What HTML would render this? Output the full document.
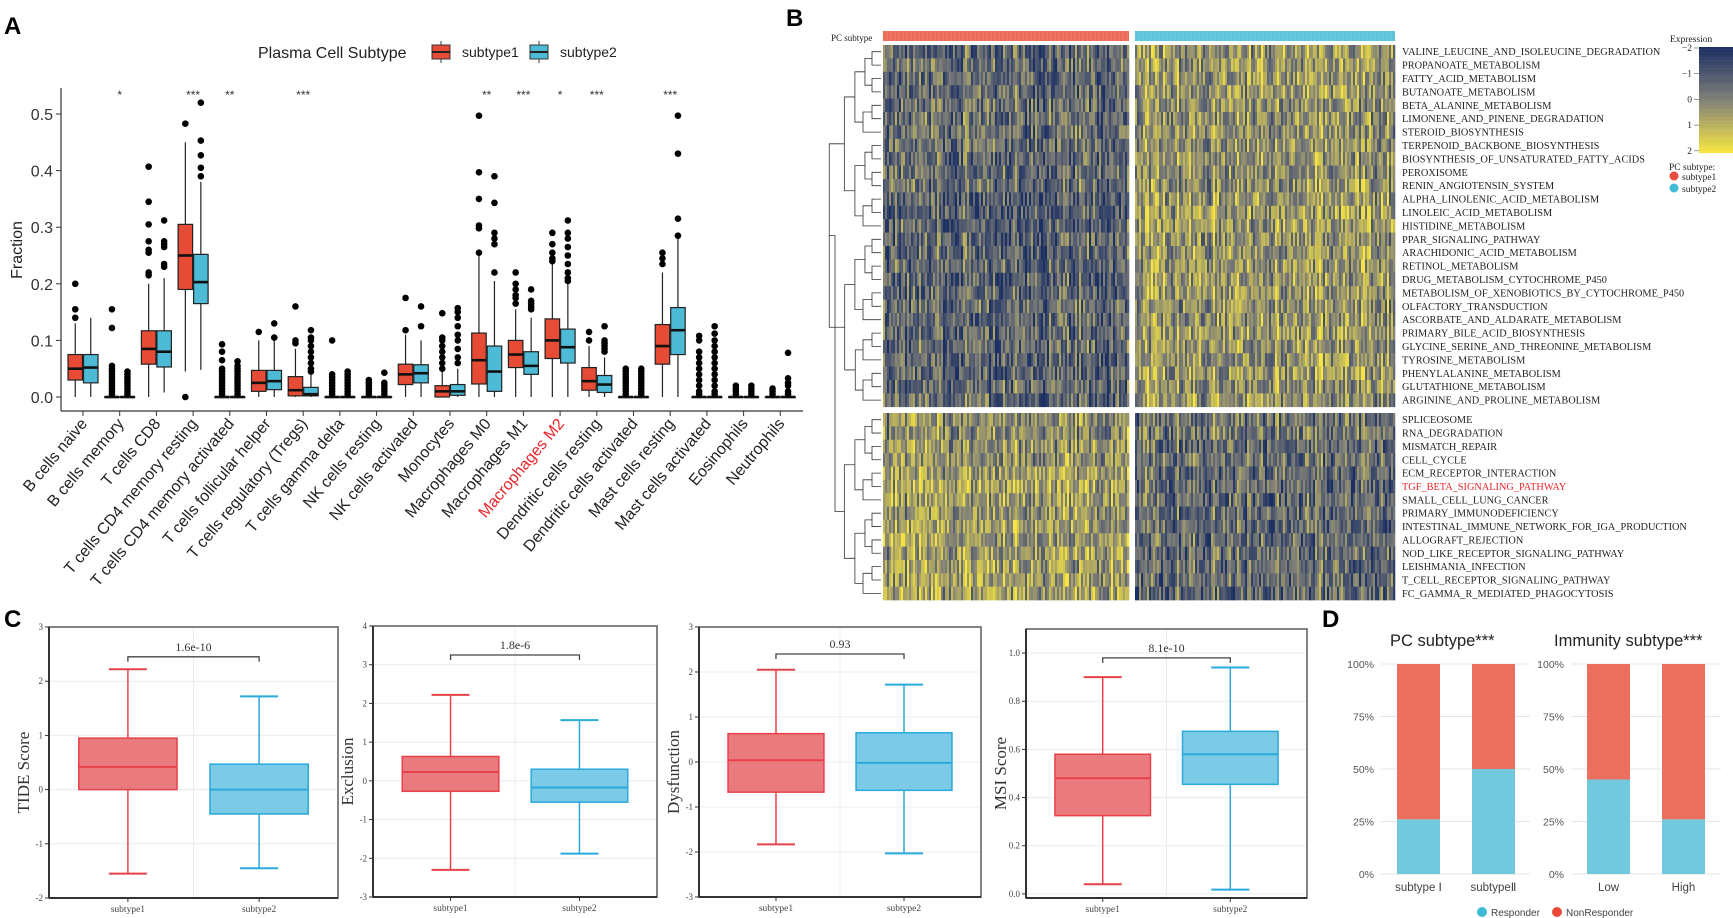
<!DOCTYPE html>
<html><head><meta charset="utf-8">
<style>
html,body{margin:0;padding:0;background:#fff;}
svg{display:block;}
</style></head>
<body>
<svg id="fig" xmlns="http://www.w3.org/2000/svg" width="1733" height="918" viewBox="0 0 1733 918">
<g id="panelA"></g>
<g id="panelB"></g>
<g id="panelC"></g>
<g id="panelD"></g>
</svg>
<script>
// ---------------- Panel A data ----------------
const cellTypes = ["B cells naive","B cells memory","T cells CD8","T cells CD4 memory resting","T cells CD4 memory activated","T cells follicular helper","T cells regulatory (Tregs)","T cells gamma delta","NK cells resting","NK cells activated","Monocytes","Macrophages M0","Macrophages M1","Macrophages M2","Dendritic cells resting","Dendritic cells activated","Mast cells resting","Mast cells activated","Eosinophils","Neutrophils"];
const s1Q1  = [0.03,0,0.058,0.19,0,0.01,0.002,0,0,0.022,0,0.023,0.052,0.068,0.012,0,0.058,0,0,0];
const s1Med = [0.05,0,0.085,0.25,0,0.025,0.012,0,0,0.04,0.01,0.065,0.075,0.1,0.028,0,0.09,0,0,0];
const s1Q3  = [0.075,0,0.117,0.305,0,0.047,0.036,0,0,0.058,0.02,0.113,0.1,0.138,0.052,0,0.128,0,0,0];
const s1Lo  = [0,0,0,0.045,0,0,0,0,0,0,0,0,0,0,0,0,0,0,0,0];
const s1Hi  = [0.13,0,0.2,0.45,0,0.1,0.085,0,0,0.11,0.045,0.25,0.155,0.235,0.09,0,0.22,0,0,0];
const s2Q1  = [0.025,0,0.053,0.165,0,0.013,0.002,0,0,0.025,0.003,0.01,0.04,0.06,0.008,0,0.075,0,0,0];
const s2Med = [0.052,0,0.08,0.203,0,0.028,0.005,0,0,0.042,0.01,0.045,0.055,0.088,0.022,0,0.118,0,0,0];
const s2Q3  = [0.075,0,0.117,0.252,0,0.047,0.017,0,0,0.057,0.022,0.09,0.08,0.12,0.038,0,0.158,0,0,0];
const s2Lo  = [0,0,0.008,0.048,0,0,0,0,0,0,0,0,0,0,0,0,0,0,0,0];
const s2Hi  = [0.14,0,0.21,0.38,0,0.1,0.04,0,0,0.1,0.05,0.205,0.14,0.2,0.07,0,0.28,0,0,0];
const s1Out = [[0.14,0.155,0.2],[0.005,0.01,0.015,0.02,0.025,0.03,0.035,0.04,0.045,0.05,0.055,0.122,0.155],[0.215,0.22,0.255,0.26,0.275,0.305,0.345,0.407],[0,0.483],[0.005,0.01,0.015,0.02,0.025,0.03,0.035,0.04,0.045,0.05,0.065,0.08,0.093],[0.115],[0.095,0.1,0.16],[0.005,0.01,0.015,0.02,0.025,0.03,0.035,0.04,0.1],[0.005,0.01,0.015,0.02,0.025,0.03],[0.118,0.175],[0.05,0.06,0.07,0.08,0.09,0.1,0.105,0.148],[0.255,0.298,0.303,0.35,0.397,0.497],[0.165,0.175,0.18,0.19,0.2,0.22],[0.24,0.245,0.255,0.27,0.29],[0.1,0.115],[0.005,0.01,0.015,0.02,0.025,0.03,0.035,0.04,0.045,0.05],[0.235,0.245,0.255],[0.005,0.01,0.02,0.03,0.04,0.05,0.06,0.07,0.08,0.1,0.108],[0.005,0.01,0.015,0.02],[0.005,0.01,0.015]];
const s2Out = [[],[0.005,0.01,0.015,0.02,0.025,0.03,0.035,0.04,0.045],[0.23,0.235,0.265,0.27,0.275,0.312],[0.39,0.405,0.427,0.453,0.52],[0.005,0.01,0.015,0.02,0.025,0.03,0.035,0.04,0.045,0.05,0.055,0.063],[0.105,0.13],[0.045,0.05,0.06,0.07,0.08,0.09,0.1,0.105,0.118],[0.005,0.01,0.015,0.02,0.025,0.03,0.035,0.04,0.045],[0.005,0.01,0.015,0.02,0.025,0.043],[0.125,0.16],[0.06,0.07,0.085,0.1,0.11,0.125,0.14,0.15,0.157],[0.22,0.27,0.28,0.29,0.343,0.39],[0.155,0.16,0.165,0.17,0.19],[0.205,0.21,0.22,0.235,0.25,0.265,0.28,0.29,0.312],[0.08,0.085,0.09,0.095,0.1,0.125],[0.005,0.01,0.015,0.02,0.025,0.03,0.035,0.04,0.045,0.05],[0.285,0.315,0.43,0.497],[0.005,0.01,0.02,0.03,0.04,0.05,0.06,0.07,0.08,0.09,0.1,0.112,0.125],[0.005,0.01,0.015,0.02],[0.005,0.01,0.02,0.025,0.033,0.078]];
const sigLabels = ["","*","","***","**","","***","","","","","**","***","*","***","","***","","",""];
const yTicksA = [0,0.1,0.2,0.3,0.4,0.5];

// ---------------- Panel B data ----------------
const pathways = ["VALINE_LEUCINE_AND_ISOLEUCINE_DEGRADATION","PROPANOATE_METABOLISM","FATTY_ACID_METABOLISM","BUTANOATE_METABOLISM","BETA_ALANINE_METABOLISM","LIMONENE_AND_PINENE_DEGRADATION","STEROID_BIOSYNTHESIS","TERPENOID_BACKBONE_BIOSYNTHESIS","BIOSYNTHESIS_OF_UNSATURATED_FATTY_ACIDS","PEROXISOME","RENIN_ANGIOTENSIN_SYSTEM","ALPHA_LINOLENIC_ACID_METABOLISM","LINOLEIC_ACID_METABOLISM","HISTIDINE_METABOLISM","PPAR_SIGNALING_PATHWAY","ARACHIDONIC_ACID_METABOLISM","RETINOL_METABOLISM","DRUG_METABOLISM_CYTOCHROME_P450","METABOLISM_OF_XENOBIOTICS_BY_CYTOCHROME_P450","OLFACTORY_TRANSDUCTION","ASCORBATE_AND_ALDARATE_METABOLISM","PRIMARY_BILE_ACID_BIOSYNTHESIS","GLYCINE_SERINE_AND_THREONINE_METABOLISM","TYROSINE_METABOLISM","PHENYLALANINE_METABOLISM","GLUTATHIONE_METABOLISM","ARGININE_AND_PROLINE_METABOLISM","SPLICEOSOME","RNA_DEGRADATION","MISMATCH_REPAIR","CELL_CYCLE","ECM_RECEPTOR_INTERACTION","TGF_BETA_SIGNALING_PATHWAY","SMALL_CELL_LUNG_CANCER","PRIMARY_IMMUNODEFICIENCY","INTESTINAL_IMMUNE_NETWORK_FOR_IGA_PRODUCTION","ALLOGRAFT_REJECTION","NOD_LIKE_RECEPTOR_SIGNALING_PATHWAY","LEISHMANIA_INFECTION","T_CELL_RECEPTOR_SIGNALING_PATHWAY","FC_GAMMA_R_MEDIATED_PHAGOCYTOSIS"];
const meanSub1 = [-0.6,-0.5,-0.6,-0.6,-0.5,-0.4,-0.4,-0.4,-0.5,-0.5,-0.5,-0.8,-0.8,-0.8,-0.6,-0.7,-0.7,-0.7,-0.7,-0.6,-0.6,-0.6,-0.6,-0.7,-0.7,-0.5,-0.5,0.3,0.2,0.4,0.4,0.6,0.7,0.6,0.5,0.6,0.6,0.6,0.6,0.6,0.6];
const meanSub2 = [0.5,0.5,0.5,0.5,0.4,0.3,0.3,0.3,0.4,0.4,0.4,0.5,0.6,0.6,0.4,0.5,0.5,0.5,0.5,0.4,0.5,0.5,0.4,0.5,0.5,0.4,0.4,-0.3,-0.2,-0.4,-0.4,-0.5,-0.6,-0.5,-0.5,-0.5,-0.5,-0.5,-0.5,-0.5,-0.6];
const nColsSub1 = 123, nColsSub2 = 130;

// ---------------- Panel C data ----------------
const cTitles = ["TIDE Score","Exclusion","Dysfunction","MSI Score"];
const cPvals = ["1.6e-10","1.8e-6","0.93","8.1e-10"];
const cQ1  = [[0,-0.45],[-0.27,-0.55],[-0.67,-0.63],[0.325,0.455]];
const cMed = [[0.42,0.0],[0.23,-0.17],[0.04,-0.02],[0.48,0.58]];
const cQ3  = [[0.95,0.47],[0.63,0.3],[0.63,0.65],[0.58,0.675]];
const cLo  = [[-1.55,-1.45],[-2.3,-1.88],[-1.83,-2.03],[0.04,0.018]];
const cHi  = [[2.22,1.72],[2.22,1.57],[2.05,1.72],[0.9,0.94]];
const cBracket = [2.45,3.25,2.4,0.98];
const cTicks = [[-2,-1,0,1,2,3],[-3,-2,-1,0,1,2,3,4],[-3,-2,-1,0,1,2,3],[0.0,0.2,0.4,0.6,0.8,1.0]];
const cTickText = [["-2","-1","0","1","2","3"],["-3","-2","-1","0","1","2","3","4"],["-3","-2","-1","0","1","2","3"],["0.0","0.2","0.4","0.6","0.8","1.0"]];
const cYmin = [-2,-3,-3,-0.017];
const cYmax = [3,4,3,1.1];

// ---------------- Panel D data ----------------
const dGroups = ["subtype Ⅰ","subtypeⅡ","Low","High"];
const dResponder = [26,50,45,26];
const dTicks = [0,25,50,75,100];

const NS="http://www.w3.org/2000/svg";
function mk(parent,tag,attrs,text){const e=document.createElementNS(NS,tag);for(const k in attrs)e.setAttribute(k,attrs[k]);if(text!==undefined)e.textContent=text;parent.appendChild(e);return e;}

// ================= PANEL A =================
(function(){
const g=document.getElementById('panelA');
const yA=v=>397-v*566;
const cx=i=>83+36.7*i;
let t=mk(g,'text',{x:4,y:34,'font-family':'Liberation Sans, sans-serif','font-size':24,'font-weight':'bold'},'A');


// legend
const lg=mk(g,'g',{});


mk(lg,'text',{x:258,y:58,'font-family':'Liberation Sans, sans-serif','font-size':16,fill:'#222'},'Plasma Cell Subtype');
[['#e64b35','subtype1',432,462],['#4dbbd5','subtype2',530,560]].forEach(d=>{
 const e=mk(lg,'g',{});
 
 
 mk(e,'line',{x1:d[2]+9,x2:d[2]+9,y1:41,y2:63,stroke:'#333','stroke-width':1});
 mk(e,'rect',{x:d[2],y:45,width:18,height:14,fill:d[0],stroke:'#333','stroke-width':1});
 mk(e,'line',{x1:d[2],x2:d[2]+18,y1:52,y2:52,stroke:'#222','stroke-width':2});
 mk(e,'text',{x:d[3],y:57,'font-family':'Liberation Sans, sans-serif','font-size':14,fill:'#222'},d[1]);
});
// axes
const ax=mk(g,'g',{});


mk(ax,'line',{x1:61,x2:61,y1:88,y2:411,stroke:'#333','stroke-width':1.2});
yTicksA.forEach(v=>{
 mk(ax,'line',{x1:56,x2:61,y1:yA(v),y2:yA(v),stroke:'#333'});
 mk(ax,'text',{x:53,y:yA(v)+6,'text-anchor':'end','font-family':'Liberation Sans, sans-serif','font-size':16,fill:'#333'},v.toFixed(1));
});
const yt=mk(g,'text',{x:0,y:0,transform:'translate(22,250) rotate(-90)','text-anchor':'middle','font-family':'Liberation Sans, sans-serif','font-size':16,fill:'#222'},'Fraction');


const xa=mk(g,'g',{});


mk(xa,'line',{x1:61,x2:803,y1:411,y2:411,stroke:'#333','stroke-width':1.2});
cellTypes.forEach((c,i)=>{
 const x=cx(i);
 mk(xa,'line',{x1:x,x2:x,y1:411,y2:416,stroke:'#333'});
 const lab=mk(xa,'text',{x:0,y:0,transform:`translate(${x+5},${424}) rotate(-50)`,'text-anchor':'end','font-family':'Liberation Sans, sans-serif','font-size':16,fill:(c==='Macrophages M2'?'#e8262a':'#222')},c);
 
 
});
function box(i,side,q1,med,q3,lo,hi,outs,fill){
 const c=cx(i); const x0= side===0? c-15: c+0.5; const w=14.5; const m=x0+w/2;
 const b=mk(g,'g',{});
 
 
 mk(b,'line',{x1:m,x2:m,y1:yA(hi),y2:yA(lo),stroke:'#222','stroke-width':1.2});
 mk(b,'rect',{x:x0,y:yA(q3),width:w,height:Math.max(0.5,yA(q1)-yA(q3)),fill:fill,stroke:'#222','stroke-width':1.2});
 mk(b,'line',{x1:x0,x2:x0+w,y1:yA(med),y2:yA(med),stroke:'#111','stroke-width':2.6});
 outs.forEach(v=>{const p=mk(b,'circle',{cx:m,cy:yA(v),r:3.3,fill:'#000'});});
}
cellTypes.forEach((c,i)=>{
 box(i,0,s1Q1[i],s1Med[i],s1Q3[i],s1Lo[i],s1Hi[i],s1Out[i],'#e64b35');
 box(i,1,s2Q1[i],s2Med[i],s2Q3[i],s2Lo[i],s2Hi[i],s2Out[i],'#4dbbd5');
 if(sigLabels[i]){const s=mk(g,'text',{x:cx(i),y:99,'text-anchor':'middle','font-family':'Liberation Sans, sans-serif','font-size':12,fill:'#333'},sigLabels[i]);
 
 }
});
})();

// ================= PANEL B =================
(function(){
const g=document.getElementById('panelB');
let t=mk(g,'text',{x:786,y:26,'font-family':'Liberation Sans, sans-serif','font-size':24,'font-weight':'bold'},'B');


const serif='Liberation Serif, serif';
mk(g,'text',{x:831,y:41,'font-family':serif,'font-size':9,fill:'#222'},'PC subtype');
const x1=883,cw=2,x2=1135;
const ann=mk(g,'g',{});


mk(ann,'rect',{x:x1,y:31,width:nColsSub1*cw,height:10,fill:'#ec6a58'});
mk(ann,'rect',{x:x2,y:31,width:nColsSub2*cw,height:10,fill:'#5cc3d8'});
for(let k=0;k<nColsSub1;k+=2)mk(ann,'line',{x1:x1+k*cw,x2:x1+k*cw,y1:31,y2:41,stroke:'#f4a396','stroke-width':0.4});
for(let k=0;k<nColsSub2;k+=2)mk(ann,'line',{x1:x2+k*cw,x2:x2+k*cw,y1:31,y2:41,stroke:'#9adcea','stroke-width':0.4});
function col(v){v=Math.max(-2,Math.min(2,v));
 const a=[27,47,99],m=[128,128,120],b=[245,228,66];
 let c; if(v<0){const f=(v+2)/2;c=a.map((x,i)=>x+(m[i]-x)*f);}else{const f=v/2;c=m.map((x,i)=>x+(b[i]-x)*f);}
 return `rgb(${c.map(Math.round).join(',')})`;}
function rowY(r){return r<27? 45+r*13.4 : 413+(r-27)*13.36;}
function hash(a,b){let h=(a*374761393+b*668265263)|0;h=(h^(h>>>13))*1274126177|0;return ((h^(h>>>16))>>>0)/4294967296;}
const hm=mk(g,'g',{});


pathways.forEach((p,r)=>{
 const y=rowY(r),h=r<27?13.4:13.36;
 for(let k=0;k<nColsSub1;k++){const v=meanSub1[r]+(hash(k,r*7+1)-0.5)*2.4+(hash(k,999)-0.5)*1.4;
  const c=mk(hm,'rect',{x:x1+k*cw,y:y,width:cw+0.3,height:h+0.3,fill:col(v)});}
 for(let k=0;k<nColsSub2;k++){const v=meanSub2[r]+(hash(k+500,r*7+1)-0.5)*2.4+(hash(k+500,999)-0.5)*1.4;
  const c=mk(hm,'rect',{x:x2+k*cw,y:y,width:cw+0.3,height:h+0.3,fill:col(v)});}
 const lab=mk(g,'text',{x:1402,y:y+h/2+3.5,'font-family':serif,'font-size':10.3,fill:(p==='TGF_BETA_SIGNALING_PATHWAY'?'#e8262a':'#222')},p);
 
 
});
// dendrogram
const dg=mk(g,'g',{stroke:'#333','stroke-width':0.8,fill:'none'});


function build(lo,hi,depth){ // returns {y,x}
 if(lo===hi){const h=lo<27?13.4:13.36;return {y:rowY(lo)+h/2,x:881};}
 const mid=Math.floor((lo+hi)/2);
 const a=build(lo,mid,depth+1),b=build(mid+1,hi,depth+1);
 const x=Math.min(a.x,b.x)-(hi-lo<3?9:6+ (hi-lo)*0.35);
 mk(dg,'path',{d:`M${a.x},${a.y}H${x}V${b.y}H${b.x}`});
 return {y:(a.y+b.y)/2,x:x};
}
const A=build(0,26,0),B=build(27,40,0);
const rx=835;
mk(dg,'path',{d:`M${A.x},${A.y}H${rx}V${B.y}H${B.x}`});
// legend
const lg=mk(g,'g',{});


mk(lg,'text',{x:1670,y:42,'font-family':serif,'font-size':9.5,fill:'#222'},'Expression');
for(let k=0;k<40;k++){const v=-2+k*0.1026;mk(lg,'rect',{x:1699,y:47+k*2.65,width:34,height:2.8,fill:col(v)});}
[-2,-1,0,1,2].forEach((v,i)=>{const y=48+i*25.7;
 mk(lg,'line',{x1:1694,x2:1699,y1:y,y2:y,stroke:'#555','stroke-width':0.6});
 mk(lg,'text',{x:1692,y:y+3,'text-anchor':'end','font-family':serif,'font-size':9.5,fill:'#222'},v===-2?'−2':v===-1?'−1':String(v));});
mk(lg,'text',{x:1669,y:170,'font-family':serif,'font-size':9.5,fill:'#222'},'PC subtype:');
mk(lg,'circle',{cx:1674,cy:176,r:4.5,fill:'#e94b3c'});
mk(lg,'text',{x:1682,y:180,'font-family':serif,'font-size':9.5,fill:'#222'},'subtype1');
mk(lg,'circle',{cx:1674,cy:188,r:4.5,fill:'#3fbcd5'});
mk(lg,'text',{x:1682,y:192,'font-family':serif,'font-size':9.5,fill:'#222'},'subtype2');
})();

// ================= PANEL C =================
(function(){
const g=document.getElementById('panelC');
let t=mk(g,'text',{x:4,y:627,'font-family':'Liberation Sans, sans-serif','font-size':24,'font-weight':'bold'},'C');


const serif='Liberation Serif, serif';
const frames=[[49,338,627,898],[373,657,626,897],[699,981,627,897],[1026,1307,629,898]];
const fills=[['#e97a7d','#e8414a'],['#7ccbe6','#29a9dc']];
frames.forEach((f,p)=>{
 const pg=mk(g,'g',{});
 
 
 const [L,R,T,Bt]=f, w=R-L;
 const y=v=>Bt-(v-cYmin[p])/(cYmax[p]-cYmin[p])*(Bt-T);
 const xc=[L+w*0.273,L+w*0.727], bw=w*0.34;
 // grid
 cTicks[p].forEach(v=>mk(pg,'line',{x1:L,x2:R,y1:y(v),y2:y(v),stroke:'#ececec','stroke-width':1}));
 mk(pg,'line',{x1:L+w/2,x2:L+w/2,y1:T,y2:Bt,stroke:'#ececec'});
 mk(pg,'rect',{x:L,y:T,width:w,height:Bt-T,fill:'none',stroke:'#666','stroke-width':1.6});
 mk(pg,'line',{x1:L,x2:L,y1:T,y2:Bt,stroke:'#333','stroke-width':2});
 mk(pg,'line',{x1:L,x2:R,y1:Bt,y2:Bt,stroke:'#333','stroke-width':2});
 cTicks[p].forEach((v,i)=>{
  mk(pg,'line',{x1:L-4,x2:L,y1:y(v),y2:y(v),stroke:'#333'});
  mk(pg,'text',{x:L-6,y:y(v)+3,'text-anchor':'end','font-family':serif,'font-size':9,fill:'#444'},cTickText[p][i]);
 });
 const yl=mk(pg,'text',{x:0,y:0,transform:`translate(${L-20},${(T+Bt)/2+10}) rotate(-90)`,'text-anchor':'middle','font-family':serif,'font-size':17,fill:'#333'},cTitles[p]);
 
 
 [0,1].forEach(s=>{
  const c=xc[s], [fc,sc]=fills[s];
  const bx=mk(pg,'g',{});
  
  
  mk(bx,'line',{x1:c,x2:c,y1:y(cHi[p][s]),y2:y(cLo[p][s]),stroke:sc,'stroke-width':1.5});
  mk(bx,'line',{x1:c-19,x2:c+19,y1:y(cHi[p][s]),y2:y(cHi[p][s]),stroke:sc,'stroke-width':2});
  mk(bx,'line',{x1:c-19,x2:c+19,y1:y(cLo[p][s]),y2:y(cLo[p][s]),stroke:sc,'stroke-width':2});
  mk(bx,'rect',{x:c-bw/2,y:y(cQ3[p][s]),width:bw,height:y(cQ1[p][s])-y(cQ3[p][s]),fill:fc,stroke:sc,'stroke-width':1.5});
  mk(bx,'line',{x1:c-bw/2,x2:c+bw/2,y1:y(cMed[p][s]),y2:y(cMed[p][s]),stroke:sc,'stroke-width':2});
  mk(pg,'line',{x1:c,x2:c,y1:Bt,y2:Bt+4,stroke:'#333'});
  mk(pg,'text',{x:c,y:Bt+14,'text-anchor':'middle','font-family':serif,'font-size':9.5,fill:'#444'},'subtype'+(s+1));
 });
 const by=y(cBracket[p]);
 mk(pg,'path',{d:`M${xc[0]},${by+5}V${by}H${xc[1]}V${by+5}`,fill:'none',stroke:'#444','stroke-width':1.3});
 const pv=mk(pg,'text',{x:(xc[0]+xc[1])/2,y:by-6,'text-anchor':'middle','font-family':serif,'font-size':12,fill:'#333'},cPvals[p]);
 
 
});
})();

// ================= PANEL D =================
(function(){
const g=document.getElementById('panelD');
let t=mk(g,'text',{x:1322,y:627,'font-family':'Liberation Sans, sans-serif','font-size':24,'font-weight':'bold'},'D');


const sans='Liberation Sans, sans-serif';
const yD=v=>874-v/100*210;
const barX=[1397,1472,1587,1662], bw=43;
const axes=[[1381,1530,1374],[1571,1721,1564]];
[['PC subtype***',1390],['Immunity subtype***',1554]].forEach(d=>{
 const ti=mk(g,'text',{x:d[1],y:646,'font-family':sans,'font-size':16.5,fill:'#222'},d[0]);
 
 
});
axes.forEach(a=>{
 dTicks.forEach(v=>{
  mk(g,'line',{x1:a[0],x2:a[1],y1:yD(v),y2:yD(v),stroke:'#e6e6e6'});
  mk(g,'text',{x:a[2],y:yD(v)+4,'text-anchor':'end','font-family':sans,'font-size':10.5,fill:'#555'},v+'%');
 });
});
dGroups.forEach((gname,i)=>{
 const b=mk(g,'g',{});
 
 
 mk(b,'rect',{x:barX[i],y:yD(100),width:bw,height:yD(dResponder[i])-yD(100),fill:'#eb6f5f'});
 mk(b,'rect',{x:barX[i],y:yD(dResponder[i]),width:bw,height:yD(0)-yD(dResponder[i]),fill:'#72c9dd'});
 mk(g,'text',{x:barX[i]+bw/2,y:891,'text-anchor':'middle','font-family':sans,'font-size':11.5,fill:'#444'},gname);
});
const lg=mk(g,'g',{});


mk(lg,'circle',{cx:1482,cy:912,r:5,fill:'#3fbcd5'});
mk(lg,'text',{x:1491,y:916,'font-family':sans,'font-size':10,fill:'#444'},'Responder');
mk(lg,'circle',{cx:1557,cy:912,r:5,fill:'#e84a3a'});
mk(lg,'text',{x:1566,y:916,'font-family':sans,'font-size':10,fill:'#444'},'NonResponder');
})();
</script>
</body></html>
